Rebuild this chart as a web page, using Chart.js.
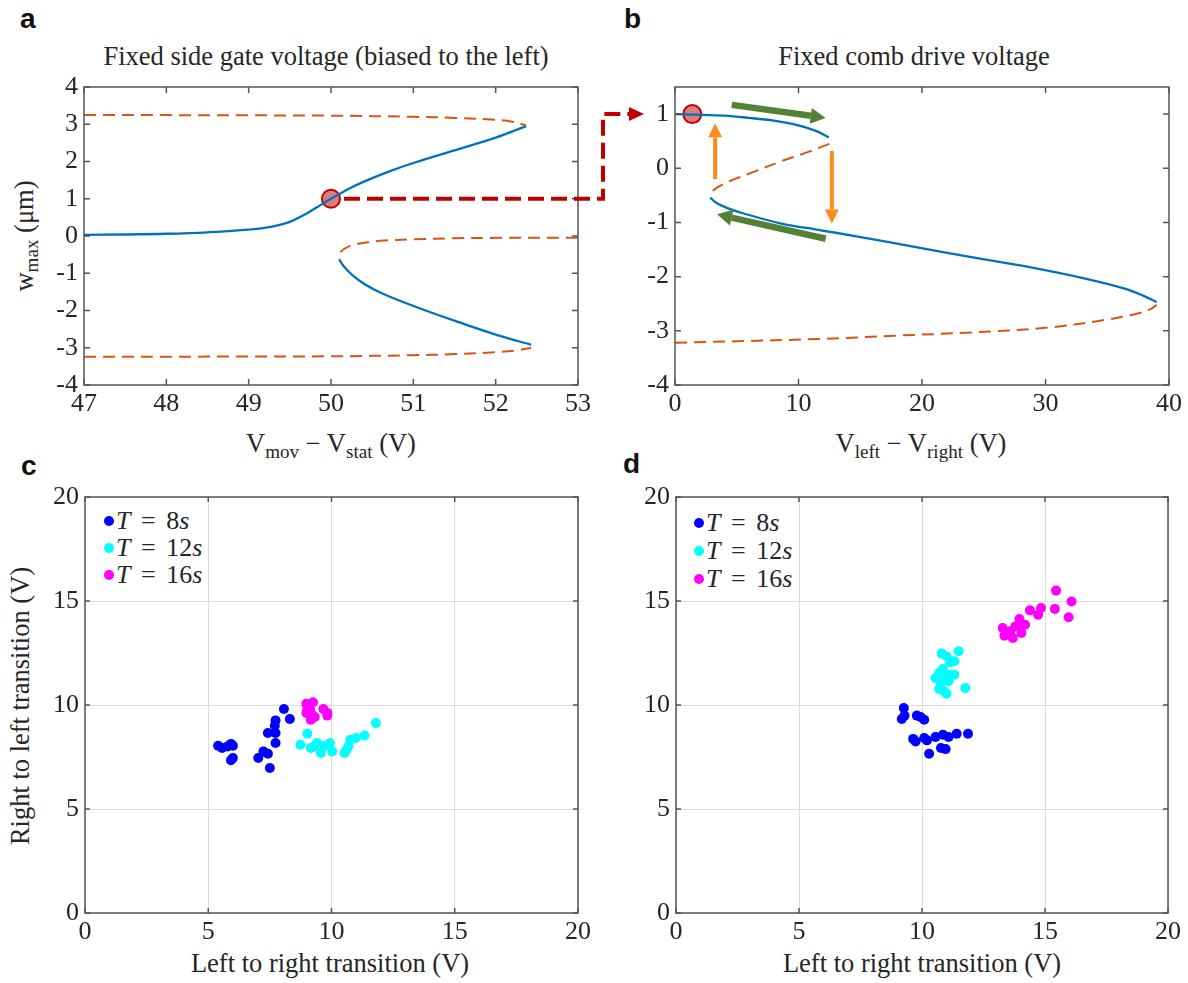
<!DOCTYPE html>
<html>
<head>
<meta charset="utf-8">
<script src="https://cdn.jsdelivr.net/npm/chart.js@4.4.1/dist/chart.umd.min.js"></script>
<style>
body { margin: 0; background: #fff; width: 1188px; height: 983px; position: relative; overflow: hidden;
       font-family: "Liberation Serif", serif; color: #262626; }
canvas { position: absolute; }
.txt { position: absolute; white-space: nowrap; line-height: 1; font-size: 26.5px; }
.letter { position: absolute; font-family: "Liberation Sans", sans-serif; font-weight: bold; font-size: 28px; color: #111; line-height: 1; }
.center { transform: translateX(-50%); }
.rot { transform: translate(-50%, -50%) rotate(-90deg); }
sub { font-size: 72%; vertical-align: -0.3em; }
.leg { position: absolute; font-size: 26px; line-height: 1; white-space: nowrap; word-spacing: 4px; transform: translateY(-50%); }
.dot { display: inline-block; width: 10px; height: 10px; border-radius: 50%; margin-right: 2px; vertical-align: 3px; }
</style>
</head>
<body>

<div class="letter" style="left:20px;top:5px">a</div>
<div class="letter" style="left:624px;top:5px">b</div>
<div class="letter" style="left:21px;top:452px">c</div>
<div class="letter" style="left:623px;top:450px">d</div>

<div class="txt center" style="left:326px;top:43px">Fixed side gate voltage (biased to the left)</div>
<div class="txt center" style="left:914px;top:43px">Fixed comb drive voltage</div>

<div class="txt center" style="left:331px;top:430px">V<sub>mov</sub> − V<sub>stat</sub> (V)</div>
<div class="txt center" style="left:921px;top:430px">V<sub>left</sub> − V<sub>right</sub> (V)</div>
<div class="txt center" style="left:330px;top:950px">Left to right transition (V)</div>
<div class="txt center" style="left:922px;top:950px">Left to right transition (V)</div>

<div class="txt rot" style="left:26px;top:236px">w<sub>max</sub> (μm)</div>
<div class="txt rot" style="left:20px;top:706px">Right to left transition (V)</div>

<div class="leg" style="left:104px;top:521px"><span class="dot" style="background:#0000ff"></span><i>T</i> = 8<i>s</i></div>
<div class="leg" style="left:104px;top:548px"><span class="dot" style="background:#00ffff"></span><i>T</i> = 12<i>s</i></div>
<div class="leg" style="left:104px;top:575px"><span class="dot" style="background:#ff00ff"></span><i>T</i> = 16<i>s</i></div>

<div class="leg" style="left:694px;top:523px"><span class="dot" style="background:#0000ff"></span><i>T</i> = 8<i>s</i></div>
<div class="leg" style="left:694px;top:551px"><span class="dot" style="background:#00ffff"></span><i>T</i> = 12<i>s</i></div>
<div class="leg" style="left:694px;top:579px"><span class="dot" style="background:#ff00ff"></span><i>T</i> = 16<i>s</i></div>

<canvas id="chartA" width="600" height="440" style="left:0;top:0"></canvas>
<canvas id="chartB" width="588" height="440" style="left:600px;top:0"></canvas>
<canvas id="chartC" width="600" height="543" style="left:0;top:440px"></canvas>
<canvas id="chartD" width="588" height="543" style="left:600px;top:440px"></canvas>
<canvas id="overlay" width="1188" height="983" style="left:0;top:0;pointer-events:none"></canvas>

<script>
// ---- Panel a: fixed side gate voltage ----
const aTicksX = [47, 48, 49, 50, 51, 52, 53];
const aTicksY = [-4, -3, -2, -1, 0, 1, 2, 3, 4];
const aUpBlueX = [47, 47.5, 48, 48.5, 49, 49.3, 49.5, 49.7, 49.85, 50, 50.2, 50.4, 50.7, 51, 51.5, 52, 52.37];
const aUpBlueY = [0.03, 0.04, 0.06, 0.1, 0.17, 0.26, 0.38, 0.6, 0.8, 1.0, 1.25, 1.46, 1.73, 1.96, 2.3, 2.64, 2.95];
const aUpDashX = [47, 48, 49, 50, 51, 51.5, 52, 52.2, 52.37];
const aUpDashY = [3.25, 3.245, 3.24, 3.23, 3.2, 3.17, 3.12, 3.07, 2.97];
const aMidDashX = [53, 52, 51.5, 51, 50.6, 50.35, 50.2, 50.12, 50.1];
const aMidDashY = [-0.05, -0.05, -0.06, -0.09, -0.13, -0.2, -0.3, -0.42, -0.52];
const aLowBlueX = [50.1, 50.15, 50.25, 50.4, 50.63, 51.1, 51.56, 52.02, 52.43];
const aLowBlueY = [-0.62, -0.8, -1.03, -1.28, -1.55, -1.96, -2.32, -2.66, -2.92];
const aLowDashX = [47, 48, 49, 50, 51, 51.5, 52, 52.25, 52.43];
const aLowDashY = [-3.24, -3.24, -3.235, -3.23, -3.2, -3.17, -3.12, -3.07, -3.0];
const aMarker = { x: 50, y: 1 };

// ---- Panel b: fixed comb drive voltage ----
const bTicksX = [0, 10, 20, 30, 40];
const bTicksY = [-4, -3, -2, -1, 0, 1];
const bUpBlueX = [0, 1.5, 4, 6, 8, 9.5, 10.5, 11.5, 12.45];
const bUpBlueY = [1.0, 0.99, 0.97, 0.93, 0.88, 0.82, 0.76, 0.68, 0.57];
const bMidDashX = [12.5, 10.4, 8.6, 6.1, 4.5, 3.6, 3.0, 2.85];
const bMidDashY = [0.45, 0.27, 0.13, -0.09, -0.23, -0.33, -0.43, -0.5];
const bLowBlueX = [2.85, 3.3, 4.2, 5.5, 8.6, 11.7, 14.8, 19.4, 24, 28.6, 33.3, 36.4, 37.9, 39.0];
const bLowBlueY = [-0.54, -0.63, -0.73, -0.83, -1.02, -1.14, -1.26, -1.45, -1.64, -1.82, -2.04, -2.22, -2.35, -2.47];
const bLowDashX = [0, 5.5, 11.7, 17.8, 24, 30.2, 34.8, 37.3, 38.5, 39.0];
const bLowDashY = [-3.22, -3.19, -3.15, -3.09, -3.03, -2.94, -2.8, -2.69, -2.6, -2.52];
const bMarker = { x: 1.4, y: 1 };
// arrows: [x0, y0, x1, y1]
const bGreenArrows = [[4.6, 1.17, 12.2, 0.93], [12.2, -1.3, 3.4, -0.85]];
const bOrangeArrows = [[3.25, -0.2, 3.25, 0.83], [12.7, 0.32, 12.7, -1.02]];

// ---- Panel c ----
const cTicks = [0, 5, 10, 15, 20];
const c8x = [5.4, 5.56, 5.79, 5.92, 6.0, 5.92, 6.0, 7.03, 7.24, 7.42, 7.5, 7.42, 7.73, 7.73, 7.7, 7.73, 8.07, 8.31];
const c8y = [8.04, 7.93, 8.01, 8.13, 8.04, 7.34, 7.45, 7.45, 7.77, 7.66, 6.97, 8.65, 8.17, 8.65, 9.0, 9.26, 9.81, 9.33];
const c12x = [8.74, 9.02, 9.16, 9.29, 9.41, 9.57, 9.72, 9.94, 10.03, 10.53, 10.6, 10.68, 10.76, 10.99, 11.34, 11.8];
const c12y = [8.09, 8.62, 7.93, 8.01, 8.17, 7.69, 8.04, 8.17, 7.77, 7.69, 7.82, 8.01, 8.33, 8.41, 8.53, 9.13];
const c16x = [8.98, 9.25, 9.13, 8.98, 9.21, 9.16, 9.32, 9.67, 9.83, 9.83, 9.02];
const c16y = [10.06, 10.13, 9.78, 9.62, 9.54, 9.29, 9.42, 9.81, 9.62, 9.49, 9.9];

// ---- Panel d ----
const d8x = [9.26, 9.18, 9.29, 9.79, 9.94, 10.09, 9.64, 9.74, 10.09, 10.2, 10.55, 10.85, 11.08, 11.41, 11.87, 10.29, 10.77, 10.96];
const d8y = [9.86, 9.33, 9.49, 9.49, 9.42, 9.29, 8.37, 8.25, 8.41, 8.3, 8.46, 8.57, 8.46, 8.62, 8.62, 7.66, 7.93, 7.88];
const d12x = [10.8, 11.0, 11.49, 11.15, 11.31, 10.55, 10.7, 10.85, 11.0, 11.15, 11.31, 11.08, 10.77, 10.7, 10.9, 11.0, 11.76];
const d12y = [12.47, 12.34, 12.58, 12.05, 12.1, 11.3, 11.54, 11.73, 11.38, 11.46, 11.46, 11.14, 11.06, 10.77, 10.66, 10.54, 10.82];
const d16x = [15.45, 16.08, 15.4, 15.96, 14.39, 14.72, 14.84, 13.28, 13.35, 13.58, 13.69, 13.8, 13.96, 14.04, 14.04, 14.19, 13.5];
const d16y = [15.5, 14.98, 14.62, 14.22, 14.55, 14.34, 14.66, 13.7, 13.33, 13.54, 13.22, 13.78, 14.13, 13.78, 13.46, 13.86, 13.46];

const BLUE = '#0072bd';
const ORANGE = '#d95319';
const FONT = { family: '"Liberation Serif", serif', size: 26 };

function pts(xs, ys) {
    return xs.map((x, i) => ({ x: x, y: ys[i] }));
}

function lineSet(xs, ys, dashed) {
    return {
        data: pts(xs, ys),
        showLine: true,
        borderColor: dashed ? ORANGE : BLUE,
        borderWidth: dashed ? 2 : 2.3,
        borderDash: dashed ? [12, 7] : [],
        pointRadius: 0,
        tension: 0.35,
        fill: false
    };
}

function markerSet(p) {
    return {
        data: [p],
        pointRadius: 9,
        pointBackgroundColor: 'rgba(205, 70, 70, 0.7)',
        pointBorderColor: '#c00000',
        pointBorderWidth: 2
    };
}

function dotSet(xs, ys, color) {
    return {
        data: pts(xs, ys),
        pointRadius: 5,
        pointBackgroundColor: color,
        pointBorderWidth: 0,
        showLine: false
    };
}

// Caja con marcas hacia dentro (estilo MATLAB)
const boxTicks = {
    id: 'boxTicks',
    afterDraw(chart, args, opts) {
        const { ctx, chartArea: a, scales: { x, y } } = chart;
        const L = opts.len;
        ctx.save();
        ctx.strokeStyle = '#555';
        ctx.lineWidth = 1.5;
        ctx.beginPath();
        x.ticks.forEach(t => {
            const px = x.getPixelForValue(t.value);
            ctx.moveTo(px, a.bottom); ctx.lineTo(px, a.bottom - L);
            ctx.moveTo(px, a.top); ctx.lineTo(px, a.top + L);
        });
        y.ticks.forEach(t => {
            const py = y.getPixelForValue(t.value);
            ctx.moveTo(a.left, py); ctx.lineTo(a.left + L, py);
            ctx.moveTo(a.right, py); ctx.lineTo(a.right - L, py);
        });
        ctx.stroke();
        ctx.strokeRect(a.left, a.top, a.right - a.left, a.bottom - a.top);
        ctx.restore();
    }
};

function drawArrow(ctx, x0, y0, x1, y1, color, width, headLen, headHalf) {
    const ang = Math.atan2(y1 - y0, x1 - x0);
    const bx = x1 - headLen * Math.cos(ang);
    const by = y1 - headLen * Math.sin(ang);
    ctx.save();
    ctx.strokeStyle = color;
    ctx.fillStyle = color;
    ctx.lineWidth = width;
    ctx.beginPath();
    ctx.moveTo(x0, y0);
    ctx.lineTo(bx, by);
    ctx.stroke();
    ctx.beginPath();
    ctx.moveTo(x1, y1);
    ctx.lineTo(bx + headHalf * Math.sin(ang), by - headHalf * Math.cos(ang));
    ctx.lineTo(bx - headHalf * Math.sin(ang), by + headHalf * Math.cos(ang));
    ctx.closePath();
    ctx.fill();
    ctx.restore();
}

// Flechas de histéresis del panel b
const arrowsB = {
    id: 'arrowsB',
    afterDatasetsDraw(chart) {
        const { ctx, scales: { x, y } } = chart;
        bGreenArrows.forEach(a => drawArrow(ctx, x.getPixelForValue(a[0]), y.getPixelForValue(a[1]),
            x.getPixelForValue(a[2]), y.getPixelForValue(a[3]), '#548235', 6.5, 15, 8));
        bOrangeArrows.forEach(a => drawArrow(ctx, x.getPixelForValue(a[0]), y.getPixelForValue(a[1]),
            x.getPixelForValue(a[2]), y.getPixelForValue(a[3]), '#ff8c1a', 4, 14, 7));
    }
};

function makeChart(id, datasets, cfg) {
    return new Chart(document.getElementById(id), {
        type: 'scatter',
        data: { datasets: datasets },
        plugins: [boxTicks].concat(cfg.plugins || []),
        options: {
            responsive: false,
            animation: false,
            devicePixelRatio: 1,
            layout: { padding: cfg.padding },
            plugins: {
                legend: { display: false },
                tooltip: { enabled: false },
                boxTicks: { len: cfg.tickLen }
            },
            scales: {
                x: {
                    type: 'linear',
                    min: cfg.xTicks[0],
                    max: cfg.xTicks[cfg.xTicks.length - 1],
                    afterBuildTicks: s => { s.ticks = cfg.xTicks.map(v => ({ value: v })); },
                    afterFit: s => { s.height = 30; },
                    border: { display: false },
                    grid: { display: cfg.grid, drawTicks: false, color: '#dcdcdc', lineWidth: 1 },
                    ticks: { font: FONT, color: '#262626', padding: 4, maxRotation: 0 }
                },
                y: {
                    type: 'linear',
                    min: cfg.yMin,
                    max: cfg.yMax,
                    afterBuildTicks: s => { s.ticks = cfg.yTicks.map(v => ({ value: v })); },
                    afterFit: s => { s.width = cfg.yWidth; },
                    border: { display: false },
                    grid: { display: cfg.grid, drawTicks: false, color: '#dcdcdc', lineWidth: 1 },
                    ticks: { font: FONT, color: '#262626', padding: 6 }
                }
            }
        }
    });
}

const chartA = makeChart('chartA', [
    lineSet(aUpDashX, aUpDashY, true),
    lineSet(aMidDashX, aMidDashY, true),
    lineSet(aLowDashX, aLowDashY, true),
    lineSet(aUpBlueX, aUpBlueY, false),
    lineSet(aLowBlueX, aLowBlueY, false),
    markerSet(aMarker)
], { xTicks: aTicksX, yTicks: aTicksY, yMin: -4, yMax: 4, yWidth: 84, grid: false, tickLen: 6,
     padding: { top: 87, right: 22, bottom: 25, left: 0 } });

const chartB = makeChart('chartB', [
    lineSet(bMidDashX, bMidDashY, true),
    lineSet(bLowDashX, bLowDashY, true),
    lineSet(bUpBlueX, bUpBlueY, false),
    lineSet(bLowBlueX, bLowBlueY, false),
    markerSet(bMarker)
], { xTicks: bTicksX, yTicks: bTicksY, yMin: -4, yMax: 1.5, yWidth: 75, grid: false, tickLen: 6,
     padding: { top: 87, right: 19, bottom: 25, left: 0 }, plugins: [arrowsB] });

const chartC = makeChart('chartC', [
    dotSet(c8x, c8y, '#0000ff'),
    dotSet(c12x, c12y, '#00ffff'),
    dotSet(c16x, c16y, '#ff00ff')
], { xTicks: cTicks, yTicks: cTicks, yMin: 0, yMax: 20, yWidth: 85, grid: true, tickLen: 5,
     padding: { top: 57, right: 22, bottom: 40, left: 0 } });

const chartD = makeChart('chartD', [
    dotSet(d8x, d8y, '#0000ff'),
    dotSet(d12x, d12y, '#00ffff'),
    dotSet(d16x, d16y, '#ff00ff')
], { xTicks: cTicks, yTicks: cTicks, yMin: 0, yMax: 20, yWidth: 76, grid: true, tickLen: 5,
     padding: { top: 57, right: 20, bottom: 40, left: 0 } });

// Conector rojo discontinuo entre el punto de a y el punto de b
function drawConnector() {
    const ctx = document.getElementById('overlay').getContext('2d');
    const offA = chartA.canvas.offsetLeft, offB = chartB.canvas.offsetLeft;
    const x0 = offA + chartA.scales.x.getPixelForValue(aMarker.x) + 13;
    const y0 = chartA.canvas.offsetTop + chartA.scales.y.getPixelForValue(aMarker.y);
    const xm = offA + chartA.chartArea.right + 25;
    const y1 = chartB.canvas.offsetTop + chartB.scales.y.getPixelForValue(bMarker.y);
    const xt = offB + chartB.chartArea.left - 31;
    ctx.save();
    ctx.strokeStyle = '#c00000';
    ctx.fillStyle = '#c00000';
    ctx.lineWidth = 4;
    ctx.setLineDash([16, 7]);
    ctx.beginPath();
    ctx.moveTo(x0, y0);
    ctx.lineTo(xm, y0);
    ctx.lineTo(xm, y1);
    ctx.lineTo(xt - 14, y1);
    ctx.stroke();
    ctx.setLineDash([]);
    ctx.beginPath();
    ctx.moveTo(xt, y1);
    ctx.lineTo(xt - 15, y1 - 7);
    ctx.lineTo(xt - 15, y1 + 7);
    ctx.closePath();
    ctx.fill();
    ctx.restore();
}

drawConnector();
</script>
</body>
</html>
